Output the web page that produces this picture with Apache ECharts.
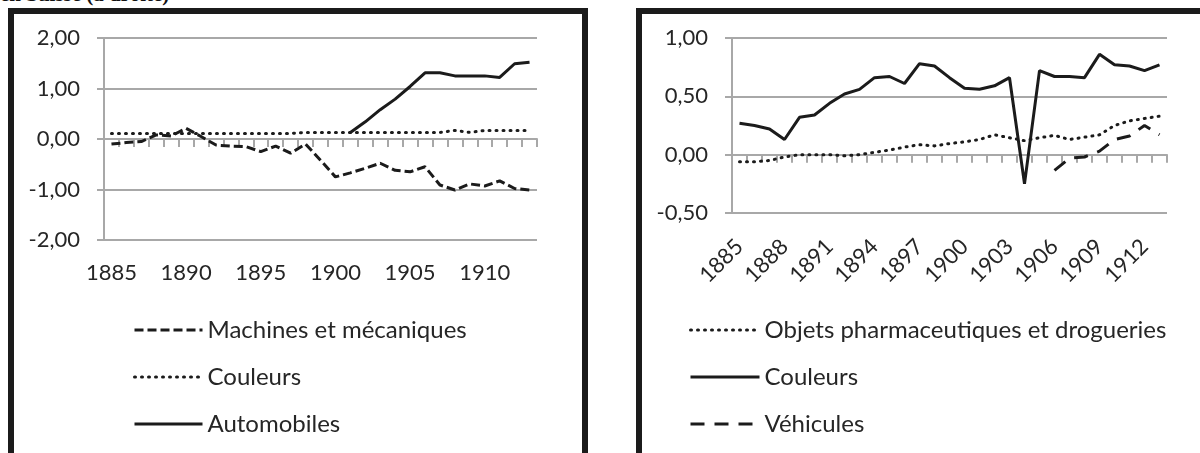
<!DOCTYPE html>
<html>
<head>
<meta charset="utf-8">
<script src="https://cdn.jsdelivr.net/npm/echarts@6.0.0/dist/echarts.min.js"></script>
<style>
    body { margin: 0; width: 1200px; height: 453px; overflow: hidden; background: #fff; position: relative; }
    .cap { position: absolute; left: 0; top: -16px; font: bold 21px "Liberation Serif", serif; line-height: 21px; color: #111; white-space: nowrap; }
    .box { position: absolute; top: 8px; height: 460px; border: 6px solid #1b1b1b; box-sizing: border-box; }
    .chart { position: absolute; top: 0; width: 600px; height: 453px; }
</style>
</head>
<body>
<div class="cap">en Suisse (à droite)</div>
<div class="box" style="left:8px;width:580px"></div>
<div class="box" style="left:636px;width:600px"></div>
<div id="left" class="chart" style="left:0"></div>
<div id="right" class="chart" style="left:600px"></div>

<script>
    // années (axe des catégories, commun aux deux graphiques)
    var years = ['1885','1886','1887','1888','1889','1890','1891','1892','1893','1894',
        '1895','1896','1897','1898','1899','1900','1901','1902','1903','1904',
        '1905','1906','1907','1908','1909','1910','1911','1912','1913']

    // graphique de gauche
    var machines = [-0.10, -0.07, -0.05, 0.08, 0.06, 0.21, 0.05, -0.12, -0.14, -0.15,
        -0.25, -0.14, -0.28, -0.10, -0.42, -0.75, -0.67, -0.58, -0.48, -0.62,
        -0.65, -0.55, -0.91, -1.01, -0.89, -0.93, -0.83, -0.98, -1.01]
    var couleursG = [0.11, 0.11, 0.11, 0.11, 0.11, 0.11, 0.11, 0.11, 0.11, 0.11,
        0.11, 0.11, 0.11, 0.13, 0.13, 0.13, 0.13, 0.13, 0.13, 0.13,
        0.13, 0.13, 0.13, 0.17, 0.13, 0.17, 0.17, 0.17, 0.17]
    var automobiles = [null, null, null, null, null, null, null, null, null, null,
        null, null, null, null, null, null, 0.13, 0.34, 0.58, 0.79,
        1.04, 1.31, 1.31, 1.25, 1.25, 1.25, 1.22, 1.49, 1.52]
    var ticksG = [-2, 2, 1]   // min, max, intervalle

    // graphique de droite
    var pharma = [-0.06, -0.06, -0.05, -0.02, 0.00, 0.00, 0.00, -0.01, 0.00, 0.02,
        0.04, 0.065, 0.085, 0.075, 0.095, 0.11, 0.13, 0.17, 0.145, 0.12,
        0.145, 0.165, 0.13, 0.15, 0.17, 0.25, 0.29, 0.31, 0.33]
    var couleursD = [0.27, 0.25, 0.22, 0.13, 0.32, 0.34, 0.44, 0.52, 0.56, 0.66,
        0.67, 0.61, 0.78, 0.76, 0.66, 0.57, 0.56, 0.59, 0.66, -0.25,
        0.72, 0.67, 0.67, 0.66, 0.86, 0.77, 0.76, 0.72, 0.77]
    var vehicules = [null, null, null, null, null, null, null, null, null, null,
        null, null, null, null, null, null, null, null, null, null,
        null, -0.135, -0.03, -0.02, 0.03, 0.13, 0.16, 0.25, 0.17]
    var ticksD = [-0.5, 1, 0.5]

    var ink = '#1b1b1b'
    var gray = '#a8a8a8'
    var txt = '#262626'
    var font = 'Lato'

    var solid = { color: ink, width: 3, type: 'solid' }
    var dashedG = { color: ink, width: 3, type: [9, 4] }
    var dotted = { color: ink, width: 3, type: [1, 6], cap: 'round' }
    var dashedD = { color: ink, width: 3, type: [14, 10] }

    function line(name, data, style) {
        return {
            name: name,
            type: 'line',
            data: data,
            symbol: 'none',
            showSymbol: false,
            connectNulls: false,
            animation: false,
            lineStyle: style,
            itemStyle: { color: ink },
            xAxisIndex: 0
        }
    }

    function fmt(v) {
        return v.toFixed(2).replace('.', ',')
    }

    function build(id, conf) {
        var chart = echarts.init(document.getElementById(id))
        chart.setOption({
            animation: false,
            textStyle: { fontFamily: font, color: txt },
            grid: conf.grid,
            xAxis: [{
                // axe au zéro : ligne et graduations
                type: 'category',
                data: years,
                boundaryGap: true,
                axisLine: { onZero: true, lineStyle: { color: gray, width: 2 } },
                axisTick: { show: true, interval: 0, length: 8, lineStyle: { color: gray, width: 2 } },
                axisLabel: { show: false },
                splitLine: { show: false }
            }, {
                // étiquettes en bas
                type: 'category',
                data: years,
                position: 'bottom',
                boundaryGap: true,
                axisLine: { show: false, onZero: false },
                axisTick: { show: false },
                axisLabel: {
                    interval: conf.labelEvery,
                    rotate: conf.rotate,
                    margin: conf.labelMargin,
                    fontFamily: font,
                    fontSize: 22,
                    color: txt
                },
                splitLine: { show: false }
            }],
            yAxis: {
                type: 'value',
                min: conf.ticks[0],
                max: conf.ticks[1],
                interval: conf.ticks[2],
                axisLine: { show: true, lineStyle: { color: gray, width: 2 } },
                axisTick: { show: true, length: 7, lineStyle: { color: gray, width: 2 } },
                axisLabel: { formatter: fmt, margin: 24, fontFamily: font, fontSize: 22, color: txt },
                splitLine: { show: true, lineStyle: { color: gray, width: 2 } }
            },
            legend: {
                orient: 'vertical',
                left: conf.legendLeft,
                top: 318,
                padding: 0,
                itemWidth: conf.legendWidth,
                itemHeight: 14,
                itemGap: 23,
                selectedMode: false,
                // pas de rond au milieu du trait
                itemStyle: { color: 'rgba(0,0,0,0)', borderWidth: 0, opacity: 0 },
                lineStyle: { width: 3, color: ink },
                textStyle: { fontFamily: font, fontSize: 24, color: txt },
                data: conf.series.map(function (s) { return s.name })
            },
            series: conf.series
        })
        return chart
    }

    build('left', {
        grid: { left: 104, top: 38, width: 433, height: 202 },
        ticks: ticksG,
        labelEvery: 4,
        rotate: 0,
        labelMargin: 22,
        legendLeft: 133,
        legendWidth: 68,
        series: [
            line('Machines et mécaniques', machines, dashedG),
            line('Couleurs', couleursG, dotted),
            line('Automobiles', automobiles, solid)
        ]
    })

    build('right', {
        grid: { left: 132, top: 38, width: 435, height: 175 },
        ticks: ticksD,
        labelEvery: 2,
        rotate: 45,
        labelMargin: 30,
        legendLeft: 89,
        legendWidth: 69,
        series: [
            line('Objets pharmaceutiques et drogueries', pharma, dotted),
            line('Couleurs', couleursD, solid),
            line('Véhicules', vehicules, dashedD)
        ]
    })
</script>
</body>
</html>
